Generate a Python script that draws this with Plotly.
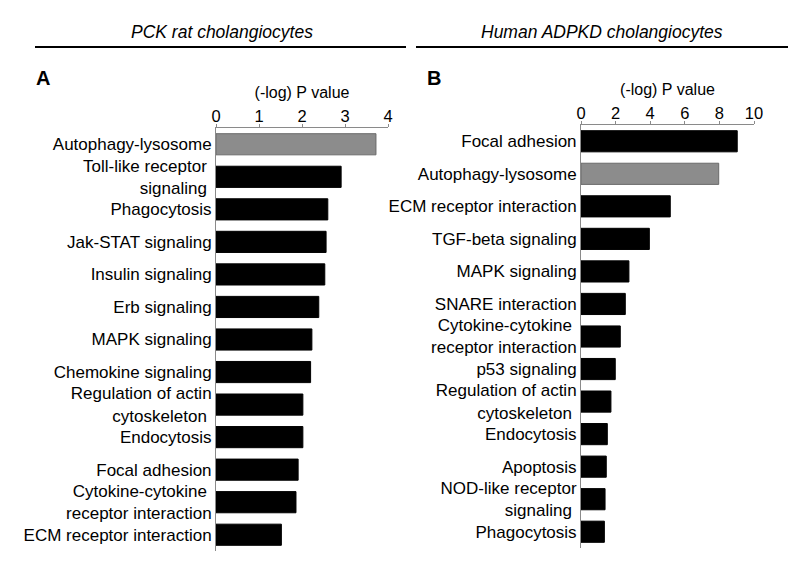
import plotly.graph_objects as go

# Panel A: PCK rat cholangiocytes
rat_pathways = [
    "Autophagy-lysosome", "Toll-like receptor\u00a0<br>signaling\u00a0", "Phagocytosis",
    "Jak-STAT signaling", "Insulin signaling", "Erb signaling", "MAPK signaling",
    "Chemokine signaling", "Regulation of actin<br>cytoskeleton\u00a0", "Endocytosis",
    "Focal adhesion", "Cytokine-cytokine\u00a0<br>receptor interaction",
    "ECM receptor interaction",
]
rat_values = [3.72, 2.91, 2.60, 2.56, 2.53, 2.39, 2.23, 2.20, 2.02, 2.02, 1.91, 1.86, 1.52]

# Panel B: Human ADPKD cholangiocytes
human_pathways = [
    "Focal adhesion", "Autophagy-lysosome", "ECM receptor interaction",
    "TGF-beta signaling", "MAPK signaling", "SNARE interaction",
    "Cytokine-cytokine\u00a0<br>receptor interaction", "p53 signaling",
    "Regulation of actin<br>cytoskeleton\u00a0", "Endocytosis", "Apoptosis",
    "NOD-like receptor<br>signaling\u00a0", "Phagocytosis",
]
human_values = [9.03, 7.96, 5.16, 3.95, 2.77, 2.56, 2.27, 1.98, 1.73, 1.52, 1.46, 1.39, 1.35]

highlight = "Autophagy-lysosome"

# page body has an 8px margin, so the figure is a bit smaller than the window
OFF = 8
W, H = 800 - 2 * OFF, 564 - 2 * OFF
TOP, BOT = 125, 551          # plot area in screenshot pixels
T = TOP - OFF
B = H - (BOT - OFF)
FONT = "Arial, Liberation Sans, sans-serif"


def px(x):
    # x in screenshot pixels -> paper fraction
    return (x - OFF) / W


def py(y):
    return (BOT - y) / (BOT - TOP)


def colors(names):
    fill = ["#8c8c8c" if n == highlight else "#000000" for n in names]
    line = ["#6a6a6a" if n == highlight else "#000000" for n in names]
    return fill, line


fig = go.Figure()
for names, vals, xa, ya in [(rat_pathways, rat_values, "x", "y"),
                            (human_pathways, human_values, "x2", "y2")]:
    fill, line = colors(names)
    fig.add_trace(go.Bar(
        x=vals, y=names, orientation="h", xaxis=xa, yaxis=ya,
        marker=dict(color=fill, line=dict(color=line, width=1)),
        showlegend=False,
    ))

xcommon = dict(side="top", showgrid=False, zeroline=False, showline=True, automargin=False,
               linecolor="#8a8a8a", linewidth=1, ticks="outside", ticklen=3,
               tickcolor="#8a8a8a", tickfont=dict(size=16.5, color="#000"),
               ticklabelstandoff=-5,
               title=dict(text="(-log) P value", font=dict(size=16, color="#000"), standoff=4))
ycommon = dict(autorange="reversed", showgrid=False, zeroline=False, showline=True,
               linecolor="#8a8a8a", linewidth=1, ticks="", automargin=False,
               tickfont=dict(size=17, color="#000"), ticklabelstandoff=0)

fig.update_layout(
    template="none",
    width=W, height=H,
    margin=dict(l=0, r=0, t=T, b=B),
    paper_bgcolor="white", plot_bgcolor="white",
    font=dict(family=FONT, color="#000"),
    bargap=0.35,
    xaxis=dict(domain=[px(216), px(388)], range=[0, 4], dtick=1, anchor="y", **xcommon),
    yaxis=dict(domain=[py(551), py(128)], anchor="x", **ycommon),
    xaxis2=dict(domain=[px(581), px(754)], range=[0, 10], dtick=2, anchor="y2", **xcommon),
    yaxis2=dict(domain=[py(548), py(125)], anchor="x2", **ycommon),
)

# section headers with rules
fig.add_annotation(text="<i>PCK rat cholangiocytes</i>", x=px(222), y=py(32),
                   xanchor="center", yanchor="middle",
                   xref="paper", yref="paper", showarrow=False, font=dict(size=17.5))
fig.add_annotation(text="<i>Human ADPKD cholangiocytes</i>", x=px(602), y=py(32),
                   xanchor="center", yanchor="middle",
                   xref="paper", yref="paper", showarrow=False, font=dict(size=17.5))
for x0, x1 in [(35, 406), (416, 788)]:
    fig.add_shape(type="line", xref="paper", yref="paper",
                  x0=px(x0), x1=px(x1), y0=py(47), y1=py(47),
                  line=dict(color="#000", width=2))

# panel letters
fig.add_annotation(text="<b>A</b>", x=px(34), y=py(78), xanchor="left", yanchor="middle",
                   xref="paper", yref="paper", showarrow=False, font=dict(size=20))
fig.add_annotation(text="<b>B</b>", x=px(425), y=py(78), xanchor="left", yanchor="middle",
                   xref="paper", yref="paper", showarrow=False, font=dict(size=20))

fig.write_html("out.html")
